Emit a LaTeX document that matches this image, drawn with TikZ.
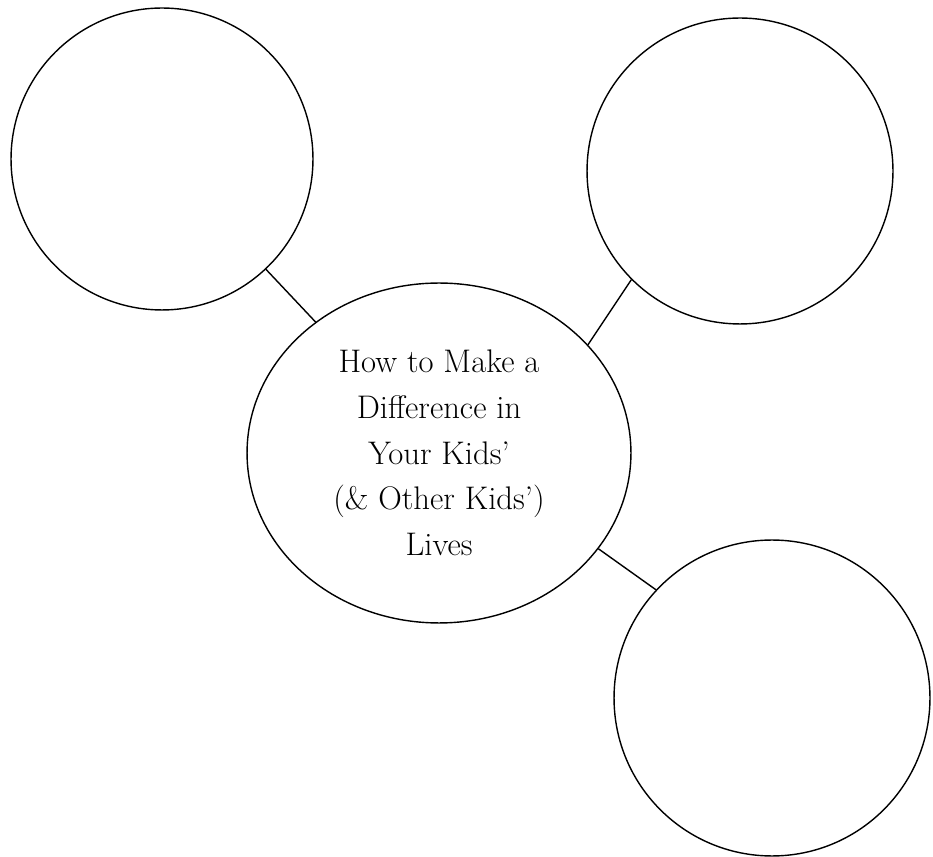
\documentclass[tikz,border=0pt]{standalone}
\usetikzlibrary{shapes.geometric}
\begin{document}
\begin{tikzpicture}[-,x=0.02cm,y=-0.02cm,line width=0.8pt,main node/.style={circle,draw,inner sep=0pt},hub node/.style={ellipse,draw,inner sep=0pt,minimum width=7.68cm,minimum height=6.8cm,align=center,font=\fontsize{18.6}{26}\selectfont}]

            \useasboundingbox (0,0) rectangle (933,857);

            \node[hub node] (0) at (439,453) {How to Make a\\Difference in\\Your Kids'\\(\& Other Kids')\\Lives};
            \node[main node, minimum size=6.04cm] (1) at (162,159) {};
            \node[main node, minimum size=6.12cm] (2) at (740,171) {};
            \node[main node, minimum size=6.32cm] (3) at (772,698) {};

            \draw[-] (1) to (0);
            \draw[-] (2.225.6) to (0.36.6);
            \draw[-] (3.137.3) to (0.329.1);

        \end{tikzpicture}
\end{document}
